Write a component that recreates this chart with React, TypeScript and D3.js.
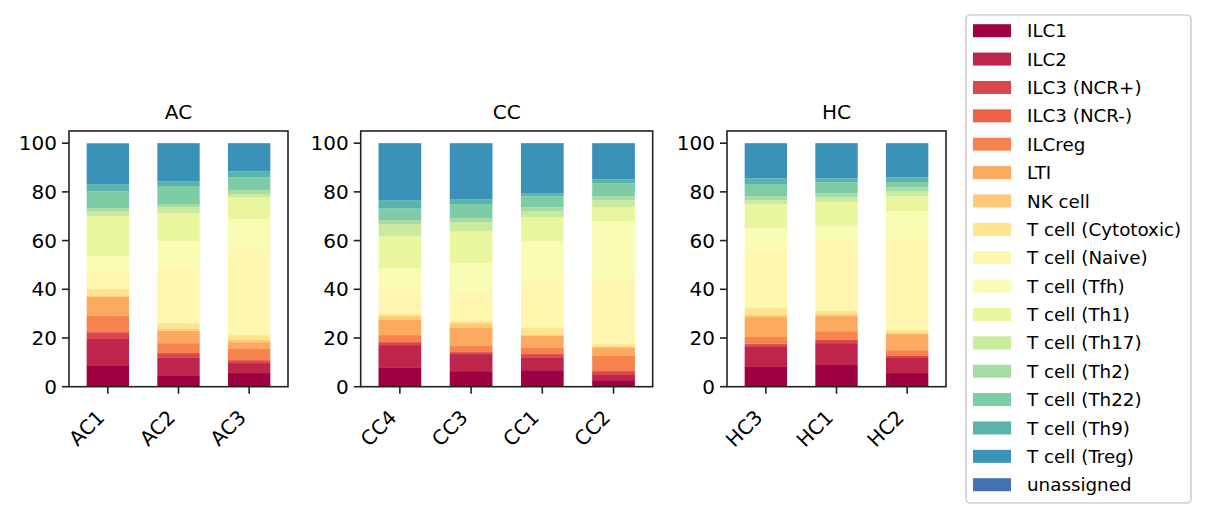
import { useEffect, useRef } from 'react';
import * as d3 from 'd3';

const cellTypes = [
    'ILC1', 'ILC2', 'ILC3 (NCR+)', 'ILC3 (NCR-)', 'ILCreg', 'LTI', 'NK cell',
    'T cell (Cytotoxic)', 'T cell (Naive)', 'T cell (Tfh)', 'T cell (Th1)',
    'T cell (Th17)', 'T cell (Th2)', 'T cell (Th22)', 'T cell (Th9)',
    'T cell (Treg)', 'unassigned'
];

const groups = ['AC', 'CC', 'HC'];
const groupSamples = [
    ['AC1', 'AC2', 'AC3'],
    ['CC4', 'CC3', 'CC1', 'CC2'],
    ['HC3', 'HC1', 'HC2']
];

// percentages per sample, in the order of cellTypes
const AC1 = [8.5, 11.1, 2.8, 0, 6.6, 7.9, 0.4, 2.8, 7.0, 6.5, 16.4, 2.1, 1.2, 7.0, 2.9, 16.6, 0.2];
const AC2 = [4.4, 7.4, 2.0, 0, 4.1, 5.1, 0.7, 2.4, 24.0, 9.7, 11.5, 2.4, 1.3, 7.4, 2.0, 15.6, 0];
const AC3 = [5.6, 4.1, 1.2, 0, 4.6, 2.8, 0.9, 2.0, 35.3, 12.3, 9.0, 1.3, 1.6, 5.3, 2.5, 11.5, 0];
const CC4 = [7.7, 9.4, 1.2, 0, 2.9, 6.2, 1.6, 0.8, 9.9, 9.0, 13.1, 5.0, 1.6, 4.9, 3.3, 23.4, 0];
const CC3 = [6.4, 7.0, 0.8, 0, 2.5, 7.4, 2.0, 0.8, 12.0, 11.9, 13.1, 3.7, 1.6, 5.8, 2.0, 23.0, 0];
const CC1 = [6.8, 5.0, 1.6, 0, 2.5, 4.9, 0.4, 2.9, 19.3, 16.4, 9.8, 2.5, 1.6, 4.5, 1.3, 20.2, 0.3];
const CC2 = [2.7, 2.1, 1.6, 0.4, 5.8, 3.6, 0.4, 0.9, 27.5, 23.0, 5.7, 2.9, 1.6, 5.4, 1.6, 14.8, 0];
const HC3 = [8.1, 8.2, 1.2, 0.3, 2.6, 8.2, 0.8, 2.9, 23.8, 9.0, 9.9, 1.6, 1.6, 5.0, 2.4, 14.4, 0];
const HC1 = [8.9, 9.0, 1.3, 0, 3.6, 6.2, 0.8, 1.3, 28.7, 6.1, 9.9, 2.0, 1.7, 4.5, 1.6, 14.1, 0.3];
const HC2 = [5.6, 6.2, 0.8, 0, 2.4, 6.6, 0.4, 1.3, 37.3, 11.5, 6.1, 2.1, 1.6, 2.1, 2.0, 14.0, 0];

const sampleValues: Record<string, number[]> = { AC1, AC2, AC3, CC4, CC3, CC1, CC2, HC3, HC1, HC2 };

const yTicks = [0, 20, 40, 60, 80, 100];

// matplotlib "Spectral" anchors
const spectralAnchors = ['#9e0142', '#d53e4f', '#f46d43', '#fdae61', '#fee08b', '#ffffbf',
    '#e6f598', '#abdda4', '#66c2a5', '#3288bd', '#5e4fa2'];

const FONT = 'DejaVu Sans, sans-serif';

export default function App() {
    const svgRef = useRef<SVGSVGElement>(null);
    const width = 1206;
    const height = 518;

    useEffect(() => {
        if (!svgRef.current) return;
        const svg = d3.select(svgRef.current);
        svg.selectAll('*').remove();

        const spectral = d3.scaleLinear<string>()
            .domain(d3.range(11).map(i => i / 10))
            .range(spectralAnchors)
            .interpolate(d3.interpolateRgb);
        const color = (i: number) => spectral(i / cellTypes.length);

        const panels = [
            { left: 69, right: 288 },
            { left: 360.7, right: 652.7 },
            { left: 727, right: 946 }
        ];
        const top = 131;
        const bottom = 386.7;

        const y = d3.scaleLinear().domain([0, 105]).range([bottom, top]);

        groups.forEach((group, gi) => {
            const p = panels[gi];
            const samples = groupSamples[gi];
            const x = d3.scaleLinear()
                .domain([-0.55, samples.length - 0.45])
                .range([p.left, p.right]);

            const rows = samples.map(s => {
                const row: Record<string, number | string> = { sample: s };
                cellTypes.forEach((c, ci) => { row[c] = sampleValues[s][ci]; });
                return row;
            });
            const stacked = d3.stack<Record<string, number | string>>()
                .keys(cellTypes)
                .value((d, k) => d[k] as number)(rows);

            const g = svg.append('g');

            stacked.forEach((layer, li) => {
                g.selectAll(null)
                    .data(layer)
                    .enter()
                    .append('rect')
                    .attr('x', (_, i) => x(i - 0.3))
                    .attr('width', x(0.3) - x(-0.3))
                    .attr('y', d => y(d[1]))
                    .attr('height', d => y(d[0]) - y(d[1]))
                    .attr('fill', color(li));
            });

            // frame
            g.append('rect')
                .attr('x', p.left)
                .attr('y', top)
                .attr('width', p.right - p.left)
                .attr('height', bottom - top)
                .attr('fill', 'none')
                .attr('stroke', '#222')
                .attr('stroke-width', 1.6);

            // y axis
            yTicks.forEach(t => {
                g.append('line')
                    .attr('x1', p.left - 7).attr('x2', p.left)
                    .attr('y1', y(t)).attr('y2', y(t))
                    .attr('stroke', '#222').attr('stroke-width', 1.6);
                g.append('text')
                    .attr('x', p.left - 12)
                    .attr('y', y(t))
                    .attr('dy', '0.36em')
                    .attr('text-anchor', 'end')
                    .style('font-family', FONT)
                    .style('font-size', '20px')
                    .style('fill', '#000')
                    .text(t);
            });

            // x axis
            samples.forEach((s, i) => {
                g.append('line')
                    .attr('x1', x(i)).attr('x2', x(i))
                    .attr('y1', bottom).attr('y2', bottom + 7)
                    .attr('stroke', '#222').attr('stroke-width', 1.6);
                const ex = x(i) - 2;
                const ey = bottom + 7 + 25;
                g.append('text')
                    .attr('transform', `translate(${ex},${ey}) rotate(-45)`)
                    .attr('text-anchor', 'end')
                    .style('font-family', FONT)
                    .style('font-size', '20px')
                    .style('fill', '#000')
                    .text(s);
            });

            // title
            g.append('text')
                .attr('x', (p.left + p.right) / 2)
                .attr('y', 119)
                .attr('text-anchor', 'middle')
                .style('font-family', FONT)
                .style('font-size', '20px')
                .style('fill', '#000')
                .text(group);
        });

        // legend
        const legend = svg.append('g');
        legend.append('rect')
            .attr('x', 966).attr('y', 15)
            .attr('width', 225).attr('height', 488)
            .attr('rx', 4)
            .attr('fill', 'white')
            .attr('stroke', '#d0d0d0')
            .attr('stroke-width', 1.6);

        const ly = d3.scaleLinear().domain([0, cellTypes.length - 1]).range([30.7, 484.7]);
        cellTypes.forEach((c, i) => {
            legend.append('rect')
                .attr('x', 973).attr('y', ly(i) - 6.5)
                .attr('width', 38).attr('height', 13)
                .attr('fill', color(i));
            legend.append('text')
                .attr('x', 1027).attr('y', ly(i))
                .attr('dy', '0.36em')
                .style('font-family', FONT)
                .style('font-size', '18.3px')
                .style('fill', '#000')
                .text(c);
        });
    }, []);

    return (
        <svg
            ref={svgRef}
            width={width}
            height={height}
            style={{ position: 'absolute', left: 0, top: 0, background: 'white' }}
        />
    );
}
